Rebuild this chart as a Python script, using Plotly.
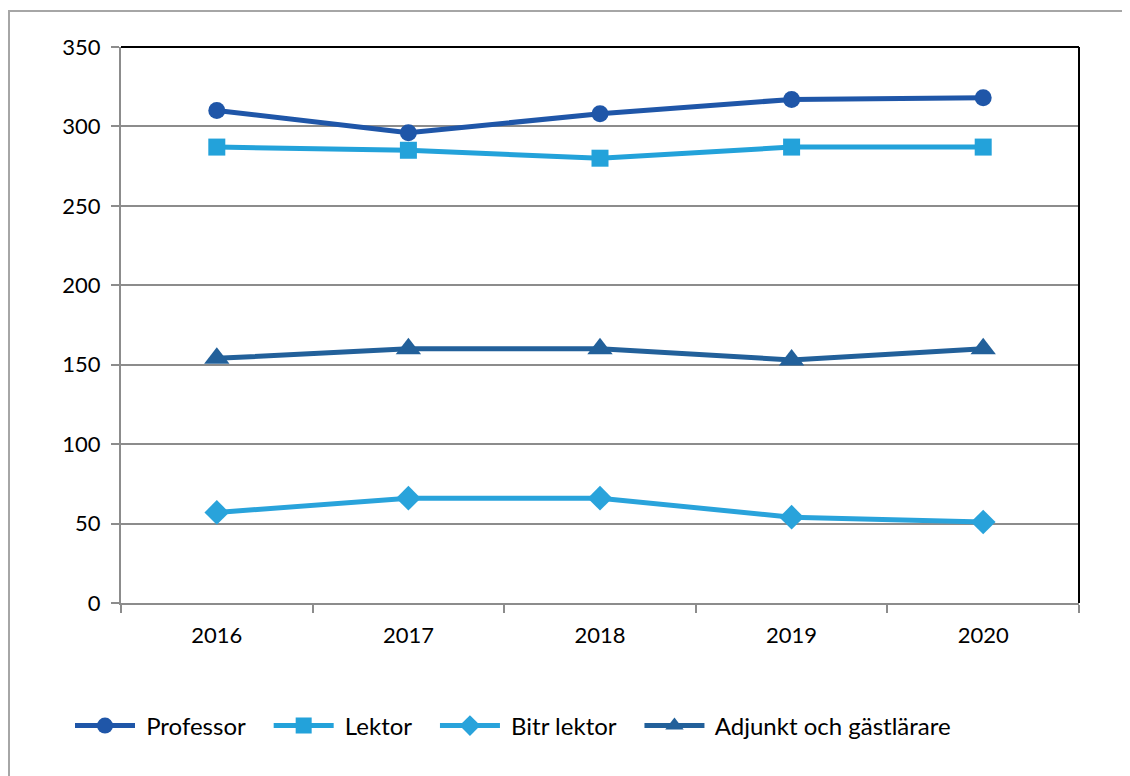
import plotly.graph_objects as go

years = ["2016", "2017", "2018", "2019", "2020"]
professor = [310, 296, 308, 317, 318]
lektor = [287, 285, 280, 287, 287]
bitr_lektor = [57, 66, 66, 54, 51]
adjunkt = [154, 160, 160, 153, 160]

NB = "\u00a0"
series = [
    ("Professor", professor, "#1f56a8", "circle", 17),
    ("Lektor", lektor, "#23a2da", "square", 17),
    ("Bitr lektor", bitr_lektor, "#29a3db", "diamond", 19),
    ("Adjunkt och gästlärare", adjunkt, "#22609a", "triangle-up", 22),
]

fig = go.Figure()
for name, vals, color, sym, size in series:
    fig.add_trace(go.Scatter(x=years, y=vals, name=NB + name + NB * 3,
                             mode="lines+markers",
                             line=dict(color=color, width=5),
                             marker=dict(symbol=sym, size=size, color=color)))

# page has an 8px body margin, so figure coords = screen coords - 8
W, H = 1130, 776
L, R, T, B = 113, 1071, 39, 595


def px(x):
    return (x - L) / (R - L)


def py(y):
    return (B - y) / (B - T)


fig.update_layout(
    width=W, height=H,
    margin=dict(l=L, r=W - R, t=T, b=H - B),
    paper_bgcolor="white", plot_bgcolor="white",
    font=dict(family="Lato, Noto Sans, sans-serif", size=22, color="black"),
    showlegend=True,
    legend=dict(orientation="h", x=px(62), xanchor="left", y=py(718), yanchor="middle",
                font=dict(size=24), itemwidth=60, traceorder="normal"),
    xaxis=dict(type="category", tickson="boundaries", ticks="outside", ticklen=8,
               tickcolor="#8c8c8c", tickwidth=2, showgrid=False,
               showline=True, linecolor="#8c8c8c", linewidth=2,
               range=[-0.5, 4.5], ticklabelstandoff=12),
    yaxis=dict(range=[0, 350], dtick=50, ticks="outside", ticklen=8,
               tickcolor="#8c8c8c", tickwidth=2, showgrid=True,
               gridcolor="#8c8c8c", gridwidth=2, zeroline=False,
               showline=True, linecolor="#8c8c8c", linewidth=2,
               ticklabelstandoff=6),
    shapes=[
        dict(type="line", xref="paper", yref="paper", x0=0, x1=1, y0=1, y1=1,
             line=dict(color="black", width=2), layer="above"),
        dict(type="line", xref="paper", yref="paper", x0=1, x1=1, y0=0, y1=1,
             line=dict(color="black", width=2), layer="above"),
        dict(type="path", xref="paper", yref="paper",
             path=f"M {px(1)} {py(790)} L {px(1)} {py(3)} L {px(1140)} {py(3)}",
             line=dict(color="#a6a6a6", width=2)),
    ],
)

fig.write_html("out.html")
